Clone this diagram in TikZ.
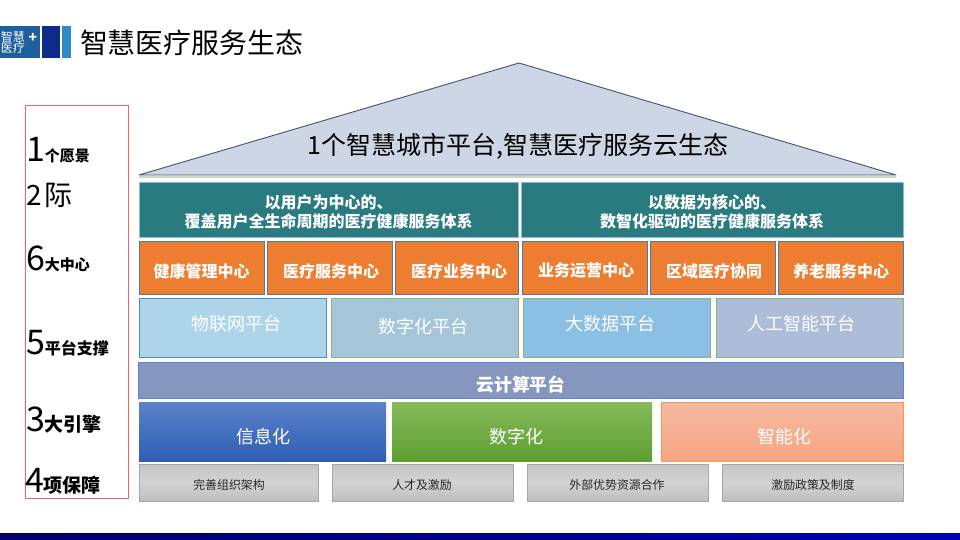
\documentclass[tikz,border=0pt]{standalone}
\usepackage{xcolor}
\usepackage{fontspec}
\setmainfont{Noto Sans CJK SC}
\definecolor{roofblue}{HTML}{CDD6E4}
\definecolor{roofline}{HTML}{44546A}
\definecolor{tealfill}{HTML}{2A7B80}
\definecolor{orangefill}{HTML}{ED7D31}
\definecolor{edgeblue}{HTML}{5B9BD5}
\definecolor{edgegreen}{HTML}{8DB37C}
\definecolor{cloudfill}{HTML}{8596BF}
\definecolor{cloudline}{HTML}{5D84D0}
\definecolor{frameRed}{HTML}{E8403F}
\definecolor{logoblue}{HTML}{1F5F9C}
\definecolor{logonavy}{HTML}{0E2A8A}
\definecolor{logosky}{HTML}{2C8AC4}
\newcommand{\pxfont}[1]{\fontsize{#1}{#1}\selectfont}
\newcommand{\numlabel}[3]{{\pxfont{34}#1}{\pxfont{#2}\bfseries #3}}
\tikzset{
    every node/.style={inner sep=0pt, outer sep=0pt, align=center},
    visionbox/.style={rectangle, fill=tealfill, draw=edgeblue!70!white, line width=1pt, minimum height=55pt, text=white, font=\pxfont{16}\bfseries},
    centerbox/.style={rectangle, fill=orangefill, draw=edgeblue!80!black, line width=1pt, minimum width=125pt, minimum height=53.5pt},
    centertext/.style={text=white, font=\pxfont{16}\bfseries},
    platformbox/.style={rectangle, line width=1pt, minimum width=187.5pt, minimum height=59pt},
    platformtext/.style={text=white, font=\pxfont{18}},
    enginebox/.style={rectangle, minimum height=59pt},
    supportbox/.style={rectangle, top color=gray!45, bottom color=gray!50, middle color=gray!35, draw=gray!70, line width=0.6pt, minimum height=37pt},
    supporttext/.style={text=black!85, font=\pxfont{11.9}},
    sidelabel/.style={anchor=base west, text=black}
}
\begin{document}
\begin{tikzpicture}[x=1pt, y=-1pt]
    \useasboundingbox (0,0) rectangle (960,540);
    \fill[white] (0,0) rectangle (960,540);

    % Logo and title
    \node[rectangle, fill=logoblue, minimum width=40pt, minimum height=32pt] (logo) at (20,42) {};
    \node[text=white, font=\pxfont{12}] (logotext) at (13,42) {智慧\\[-1pt]医疗};
    \node[text=white, font=\pxfont{14}\bfseries] (logoplus) at (33,38) {+};
    \node[rectangle, fill=logonavy, minimum width=18pt, minimum height=32pt] (logobar) at (51,42) {};
    \node[rectangle, fill=logosky, minimum width=9pt, minimum height=32pt] (logostrip) at (66.5,42) {};
    \node[anchor=west, font=\pxfont{27.9}] (title) at (80,43) {智慧医疗服务生态};

    % Roof
    \coordinate (roofL) at (139,175);
    \coordinate (roofT) at (519,63);
    \coordinate (roofR) at (896,175);
    \draw[gray!35, line width=2pt] (139,177) -- (896,177);
    \draw[fill=roofblue, draw=roofline, line width=0.9pt, line join=round] (roofL) -- (roofT) -- (roofR) -- cycle;
    \node[font=\pxfont{25}] (city) at (518,146.5) {1个智慧城市平台,智慧医疗服务云生态};

    % Left frame
    \node[rectangle, draw=frameRed!80!white, line width=0.8pt, minimum width=103pt, minimum height=393pt] (frame) at (76.5,301.5) {};
    \node[sidelabel] (vision) at (26,162) {\numlabel{1}{15}{个愿景}};
    \node[sidelabel, font=\pxfont{28}] (goal) at (27,205) {2\kern2pt 际};
    \node[sidelabel] (centers) at (26,270) {\numlabel{6}{15}{大中心}};
    \node[sidelabel] (platforms) at (26,354) {\numlabel{5}{16}{平台支撑}};
    \node[sidelabel] (engines) at (26,431) {\numlabel{3}{19}{大引擎}};
    \node[sidelabel] (supports) at (25,492) {\numlabel{4}{19}{项保障}};

    % Vision row
    \node[visionbox, minimum width=379.5pt] (userbox) at (329,210) {};
    \node[visionbox, minimum width=382pt] (databox) at (712.5,210) {};
    \node[text=white, font=\pxfont{16}\bfseries] (usertext) at (328.5,212) {以用户为中心的、\\[3pt]覆盖用户全生命周期的医疗健康服务体系};
    \node[text=white, font=\pxfont{16}\bfseries] (datatext) at (712,212) {以数据为核心的、\\[3pt]数智化驱动的医疗健康服务体系};

    % Center row
    \node[centerbox] (health) at (202,268) {};
    \node[centertext] (healthtext) at (201.5,271) {健康管理中心};
    \node[centerbox] (medservice) at (330,268) {};
    \node[centertext] (medservicetext) at (331,271) {医疗服务中心};
    \node[centerbox, minimum width=123pt] (medbiz) at (457,268) {};
    \node[centertext] (medbiztext) at (459,271) {医疗业务中心};
    \node[centerbox] (operation) at (585,268) {};
    \node[centertext] (operationtext) at (586,271) {业务运营中心};
    \node[centerbox] (region) at (713,268) {};
    \node[centertext] (regiontext) at (714,271) {区域医疗协同};
    \node[centerbox] (elder) at (841,268) {};
    \node[centertext] (eldertext) at (841,271) {养老服务中心};

    % Platform row
    \node[platformbox, fill={rgb,255:red,174;green,212;blue,234}, draw=edgeblue!90!black] (iot) at (233,328) {};
    \node[platformtext] (iottext) at (236,324) {物联网平台};
    \node[platformbox, fill={rgb,255:red,165;green,197;blue,217}, draw=edgegreen] (digital) at (425,328) {};
    \node[platformtext] (digitaltext) at (423,327) {数字化平台};
    \node[platformbox, fill={rgb,255:red,139;green,191;blue,228}, draw=edgegreen] (bigdata) at (617,328) {};
    \node[platformtext] (bigdatatext) at (610,324) {大数据平台};
    \node[platformbox, fill={rgb,255:red,173;green,188;blue,216}, draw=edgegreen] (ai) at (810,328) {};
    \node[platformtext] (aitext) at (801,324) {人工智能平台};

    % Cloud bar
    \node[rectangle, fill=cloudfill, draw=cloudline, line width=0.8pt, minimum width=765pt, minimum height=36pt] (cloud) at (521,380) {};
    \node[font=\pxfont{17.8}\bfseries, text=white] (cloudtext) at (521,384.5) {云计算平台};

    % Engine row
    \node[enginebox, minimum width=247pt, top color={rgb,255:red,92;green,130;blue,202}, bottom color={rgb,255:red,46;green,94;blue,180}] (info) at (262.5,431.5) {};
    \node[platformtext] (infotext) at (263,437) {信息化};
    \node[enginebox, minimum width=260pt, top color={rgb,255:red,134;green,187;blue,92}, bottom color={rgb,255:red,95;green,158;blue,48}] (digi) at (522,431.5) {};
    \node[platformtext] (digitext) at (516,437) {数字化};
    \node[enginebox, minimum width=242.5pt, top color={rgb,255:red,245;green,186;blue,162}, bottom color={rgb,255:red,247;green,164;blue,130}, draw=orangefill!80!white, line width=0.6pt] (smart) at (782.5,431.5) {};
    \node[platformtext] (smarttext) at (784,437) {智能化};

    % Support row
    \node[supportbox, minimum width=179pt] (org) at (228.5,482.5) {};
    \node[supporttext] (orgtext) at (229,485) {完善组织架构};
    \node[supportbox, minimum width=181pt] (talent) at (422.5,482.5) {};
    \node[supporttext] (talenttext) at (422,485) {人才及激励};
    \node[supportbox, minimum width=181pt] (resource) at (617.5,482.5) {};
    \node[supporttext] (resourcetext) at (617,485) {外部优势资源合作};
    \node[supportbox, minimum width=181.5pt] (policy) at (813,482.5) {};
    \node[supporttext] (policytext) at (813,485) {激励政策及制度};

    % Bottom band
    \fill[left color=blue!40!black, middle color=blue!55!black, right color=blue!70!black] (0,533.5) rectangle (960,540);
\end{tikzpicture}
\end{document}
